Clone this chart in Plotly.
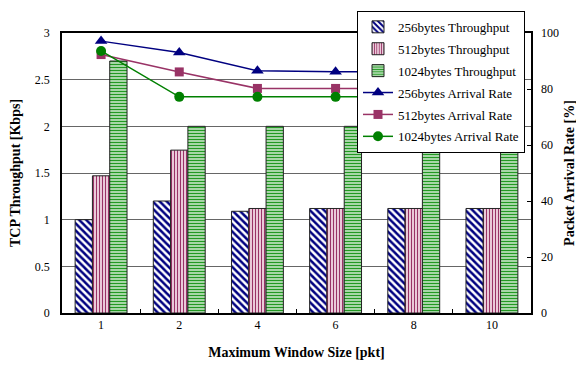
import plotly.graph_objects as go

categories = ["1", "2", "4", "6", "8", "10"]
thr_256 = [1.0, 1.2, 1.09, 1.12, 1.12, 1.12]
thr_512 = [1.47, 1.745, 1.12, 1.12, 1.12, 1.12]
thr_1024 = [2.7, 2.0, 2.0, 2.0, 2.0, 2.0]
arr_256 = [97.1, 93.0, 86.5, 86.2, 86.2, 86.2]
arr_512 = [92.3, 86.1, 80.2, 80.2, 80.2, 80.2]
arr_1024 = [93.6, 77.2, 77.2, 77.2, 77.2, 77.2]

FONT = "Liberation Serif"
NAVY = "#000080"
PURP = "#993366"
GREEN = "#008000"

fig = go.Figure()
fig.add_bar(x=categories, y=thr_256, name="256bytes Throughput", legendgroup="a",
            marker=dict(color="white", line=dict(color="#222222", width=1),
                        pattern=dict(shape="\\", fgcolor=NAVY, bgcolor="white", size=5, solidity=0.5, fillmode="replace")))
fig.add_bar(x=categories, y=thr_512, name="512bytes Throughput", legendgroup="b",
            marker=dict(color="white", line=dict(color="#222222", width=1),
                        pattern=dict(shape="|", fgcolor=PURP, bgcolor="#fbeaf2", size=3, solidity=0.45, fillmode="replace")))
fig.add_bar(x=categories, y=thr_1024, name="1024bytes Throughput", legendgroup="c",
            marker=dict(color="white", line=dict(color="#222222", width=1),
                        pattern=dict(shape="-", fgcolor="#229922", bgcolor="white", size=3, solidity=0.6, fillmode="replace")))
fig.add_scatter(x=categories, y=arr_256, name="256bytes Arrival Rate", yaxis="y2", mode="lines+markers", legendgroup="d",
                line=dict(color=NAVY, width=1.5), marker=dict(symbol="triangle-up", size=11, color=NAVY))
fig.add_scatter(x=categories, y=arr_512, name="512bytes Arrival Rate", yaxis="y2", mode="lines+markers", legendgroup="e",
                line=dict(color=PURP, width=1.5), marker=dict(symbol="square", size=9, color=PURP))
fig.add_scatter(x=categories, y=arr_1024, name="1024bytes Arrival Rate", yaxis="y2", mode="lines+markers", legendgroup="f",
                line=dict(color=GREEN, width=1.5), marker=dict(symbol="circle", size=10, color=GREEN))

fig.update_layout(
    width=576, height=359,
    margin=dict(l=54, r=53, t=25, b=54, autoexpand=False),
    paper_bgcolor="white", plot_bgcolor="white",
    font=dict(family=FONT, size=12, color="black"),
    barmode="group", bargap=0.336, bargroupgap=0,
    showlegend=True,
    legend=dict(x=0.629, y=1.079, xanchor="left", yanchor="top",
                bgcolor="white", bordercolor="black", borderwidth=1,
                font=dict(family=FONT, size=13), tracegroupgap=2, traceorder="grouped"),
    xaxis=dict(type="category", showline=True, linecolor="black", linewidth=1.5, mirror=True,
               ticks="inside", ticklen=4, tickcolor="black", tickson="boundaries",
               showgrid=False, tickfont=dict(size=12), automargin=False,
               title=dict(text="<b>Maximum Window Size [pkt]</b>", font=dict(size=14), standoff=16)),
    yaxis=dict(range=[0, 3], dtick=0.5, showline=True, linecolor="black", linewidth=1.5, mirror=True,
               showgrid=True, gridcolor="#666666", gridwidth=1, ticks="", zeroline=False,
               tickfont=dict(size=12), automargin=False, ticklabelstandoff=8,
               title=dict(text="<b>TCP Throughput [Kbps]</b>", font=dict(size=14), standoff=17)),
    yaxis2=dict(range=[0, 100], dtick=20, overlaying="y", side="right", showgrid=False,
                ticks="inside", ticklen=4, tickcolor="black", showline=False, zeroline=False,
                tickfont=dict(size=12), automargin=False, ticklabelstandoff=9,
                title=dict(text="<b>Packet Arrival Rate [%]</b>", font=dict(size=14), standoff=6)),
)

fig.write_html("out.html")
